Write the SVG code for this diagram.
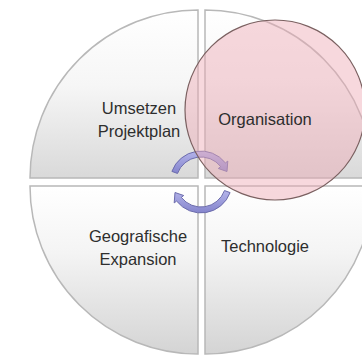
<svg xmlns="http://www.w3.org/2000/svg" width="362" height="356" viewBox="0 0 362 356">
<defs>
<linearGradient id="gTop" x1="0" y1="0" x2="0" y2="1">
<stop offset="0" stop-color="#ffffff"/>
<stop offset="0.45" stop-color="#f6f6f6"/>
<stop offset="1" stop-color="#d9d9d9"/>
</linearGradient>
<linearGradient id="gBot" x1="0" y1="0" x2="0" y2="1">
<stop offset="0" stop-color="#ffffff"/>
<stop offset="0.4" stop-color="#f4f4f4"/>
<stop offset="1" stop-color="#d4d4d4"/>
</linearGradient>
<linearGradient id="gArr" x1="0" y1="0" x2="0" y2="1">
<stop offset="0" stop-color="#b4b4ea"/>
<stop offset="1" stop-color="#8484cc"/>
</linearGradient>
</defs>
<style>
.q{stroke:#b8b8b8;stroke-width:1.5}
.t{font-family:"Liberation Sans",Arial,sans-serif;font-size:16.5px;fill:#2e2e2e;text-anchor:middle}
.arr{fill:url(#gArr);stroke:#6c6cac;stroke-width:1}
</style>
<rect width="362" height="356" fill="#ffffff"/>
<g id="umsetzen">
<path class="q" fill="url(#gTop)" d="M198,178 L30,178 A168,168 0 0 1 198,10 Z"/>
<text class="t" x="139" y="114">Umsetzen</text>
<text class="t" x="139" y="137">Projektplan</text>
</g>
<g id="geografisch">
<path class="q" fill="url(#gBot)" d="M198,186 L198,354 A168,168 0 0 1 30,186 Z"/>
<text class="t" x="138" y="242">Geografische</text>
<text class="t" x="138" y="265">Expansion</text>
</g>
<g id="technologie">
<path class="q" fill="url(#gBot)" d="M205,186 L373,186 A168,168 0 0 1 205,354 Z"/>
<text class="t" x="265" y="252">Technologie</text>
</g>
<g id="organisation">
<path class="q" fill="url(#gTop)" d="M205,178 L205,10 A168,168 0 0 1 373,178 Z"/>
</g>
<g id="connectors">
<path class="arr" d="M171.9,171.4 A31,31 0 0 1 225.4,162.9 L227.8,161.1 L227.0,171.5 L218.3,168.5 L220.7,166.6 A25,25 0 0 0 177.5,173.45 Z"/>
<path class="arr" d="M230.1,192.6 A31,31 0 0 1 176.6,201.1 L174.2,202.9 L175.0,192.5 L183.7,195.5 L181.3,197.4 A25,25 0 0 0 224.5,190.55 Z"/>
</g>
<g id="highlight">
<circle cx="275" cy="110" r="90" fill="#eea8b4" fill-opacity="0.45" stroke="#7a6060" stroke-width="1.2"/>
<text class="t" x="265" y="125">Organisation</text>
</g>
</svg>
